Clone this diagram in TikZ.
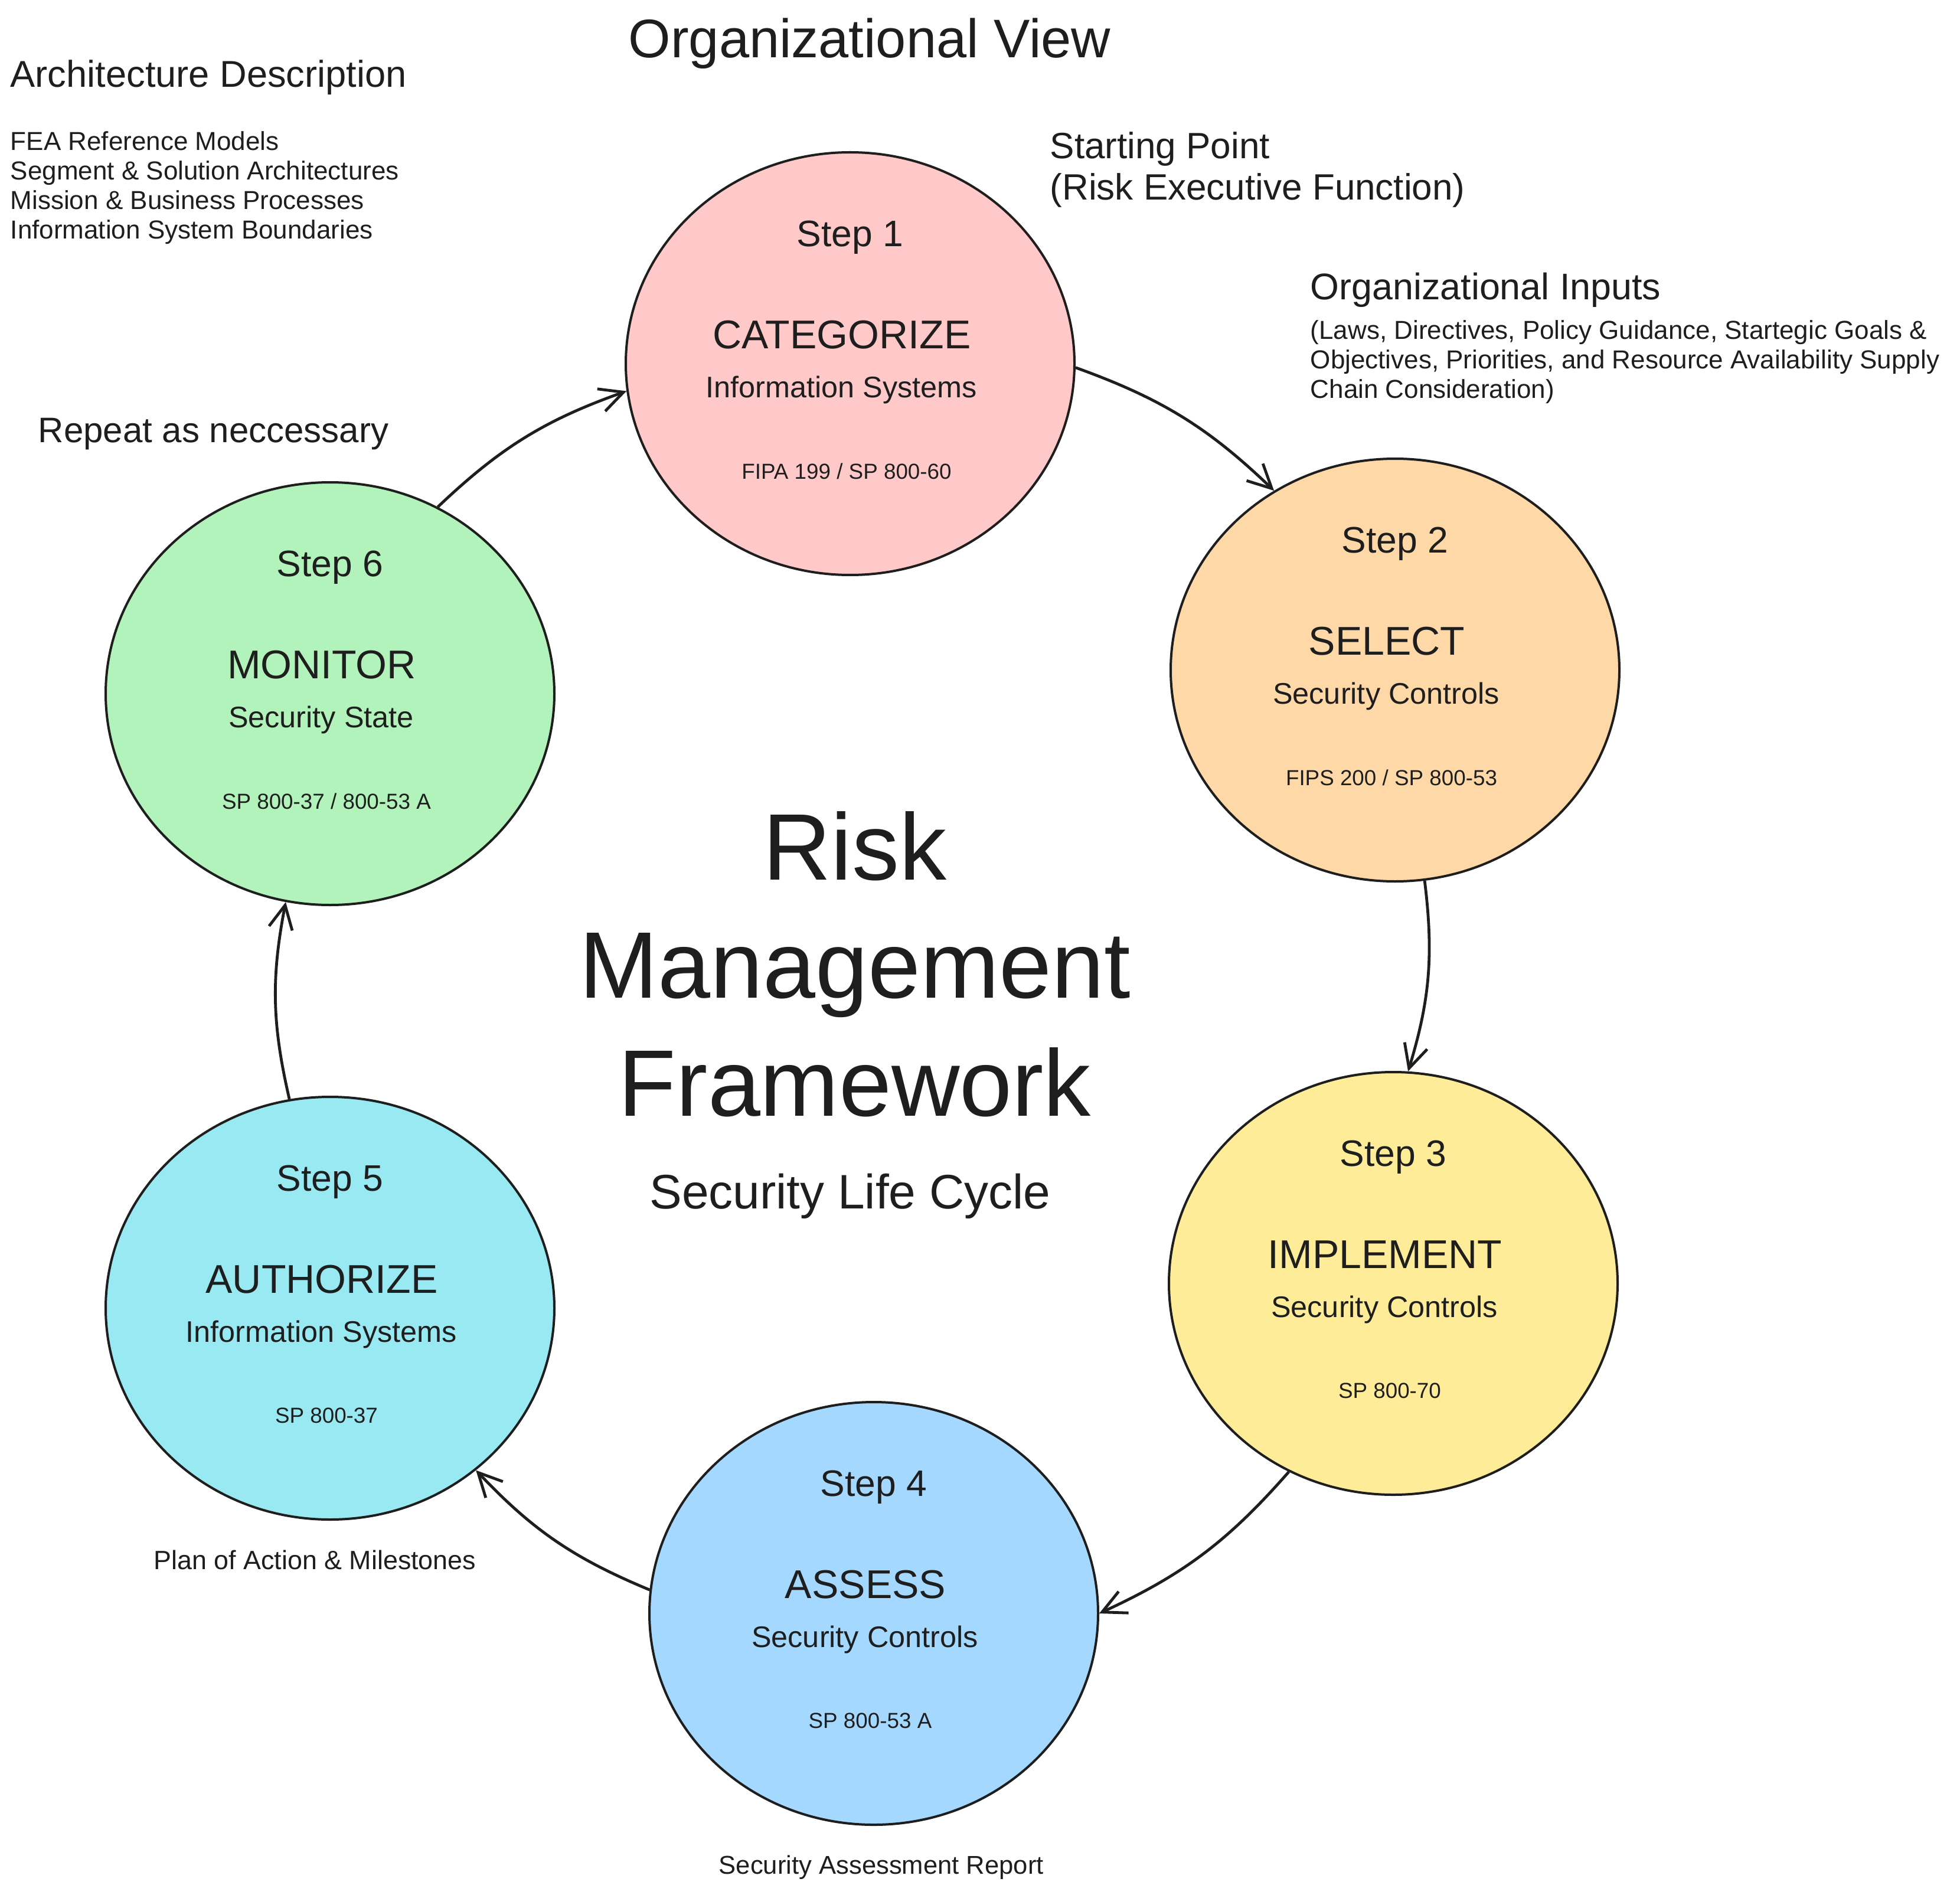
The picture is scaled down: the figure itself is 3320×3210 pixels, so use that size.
\documentclass[tikz,border=0pt]{standalone}
\usepackage{fontspec}
\setmainfont{Liberation Sans}
\usetikzlibrary{shapes.geometric,arrows.meta,calc}
\definecolor{ink}{HTML}{1E1E1E}
\definecolor{stepone}{HTML}{FFC9C9}
\definecolor{steptwo}{HTML}{FFD8A8}
\definecolor{stepthree}{HTML}{FFEC99}
\definecolor{stepfour}{HTML}{A5D8FF}
\definecolor{stepfive}{HTML}{99E9F2}
\definecolor{stepsix}{HTML}{B2F2BB}
\tikzset{
  stepcircle/.style={ellipse, draw=ink, line width=1pt, minimum width=190pt, minimum height=179pt, inner sep=0pt},
  steplabel/.style={font=\fontsize{15.6}{18}\selectfont, text=ink, inner sep=0pt},
  stepname/.style={font=\fontsize{17}{20}\selectfont, text=ink, inner sep=0pt},
  stepsub/.style={font=\fontsize{12.6}{15}\selectfont, text=ink, inner sep=0pt},
  stepref/.style={font=\fontsize{9.2}{11}\selectfont, text=ink, inner sep=0pt},
  flow/.style={-{Straight Barb[length=10pt,width=10pt]}, draw=ink, line width=1.2pt, bend left=12},
  note/.style={anchor=west, align=left, text=ink, inner sep=0pt},
}
\begin{document}
\begin{tikzpicture}[x=0.25pt, y=-0.25pt]
    \useasboundingbox (0,0) rectangle (3320,3210);

    % headings and notes
    \node[text=ink, font=\fontsize{23}{27}\selectfont] at (1473,74) (title) {Organizational View};
    \node[note, font=\fontsize{15.8}{19}\selectfont] at (17,131) (archhead) {Architecture Description};
    \node[note, font=\fontsize{11}{12.5}\selectfont] at (17,318) (archlist) {FEA Reference Models\\Segment \& Solution Architectures\\Mission \& Business Processes\\Information System Boundaries};
    \node[note, font=\fontsize{15.5}{17.5}\selectfont] at (1778,287) (start) {Starting Point\\(Risk Executive Function)};
    \node[note, font=\fontsize{15.7}{19}\selectfont] at (2219,491) (orghead) {Organizational Inputs};
    \node[note, font=\fontsize{11}{12.5}\selectfont] at (2219,613) (orglist) {(Laws, Directives, Policy Guidance, Startegic Goals \&\\Objectives, Priorities, and Resource Availability Supply\\Chain Consideration)};
    \node[note, font=\fontsize{15}{18}\selectfont] at (64,735) (repeat) {Repeat as neccessary};
    \node[note, font=\fontsize{11.2}{13}\selectfont] at (260,2642) (poam) {Plan of Action \& Milestones};
    \node[note, font=\fontsize{10.9}{13}\selectfont] at (1217,3163) (sar) {Security Assessment Report};
    \node[text=ink, align=center, font=\fontsize{40}{50}\selectfont] at (1448,1633) (rmf) {Risk\\Management\\Framework};
    \node[text=ink, font=\fontsize{20.5}{24}\selectfont] at (1440,2026) (cycle) {Security Life Cycle};

    % step 1
    \node[stepcircle, fill=stepone] at (1440,616) (s1) {};
    \node[steplabel] at ($(s1)+(0,-214)$) (s1step) {Step 1};
    \node[stepname] at ($(s1)+(-14,-49)$) (s1name) {CATEGORIZE};
    \node[stepsub] at ($(s1)+(-15,44)$) (s1sub) {Information Systems};
    \node[stepref] at ($(s1)+(-6,182)$) (s1ref) {FIPA 199 / SP 800-60};
    % step 2
    \node[stepcircle, fill=steptwo] at (2363,1135) (s2) {};
    \node[steplabel] at ($(s2)+(0,-214)$) (s2step) {Step 2};
    \node[stepname] at ($(s2)+(-14,-49)$) (s2name) {SELECT};
    \node[stepsub] at ($(s2)+(-15,44)$) (s2sub) {Security Controls};
    \node[stepref] at ($(s2)+(-6,182)$) (s2ref) {FIPS 200 / SP 800-53};
    % step 3
    \node[stepcircle, fill=stepthree] at (2360,2174) (s3) {};
    \node[steplabel] at ($(s3)+(0,-214)$) (s3step) {Step 3};
    \node[stepname] at ($(s3)+(-14,-49)$) (s3name) {IMPLEMENT};
    \node[stepsub] at ($(s3)+(-15,44)$) (s3sub) {Security Controls};
    \node[stepref] at ($(s3)+(-6,182)$) (s3ref) {SP 800-70};
    % step 4
    \node[stepcircle, fill=stepfour] at (1480,2733) (s4) {};
    \node[steplabel] at ($(s4)+(0,-214)$) (s4step) {Step 4};
    \node[stepname] at ($(s4)+(-14,-49)$) (s4name) {ASSESS};
    \node[stepsub] at ($(s4)+(-15,44)$) (s4sub) {Security Controls};
    \node[stepref] at ($(s4)+(-6,182)$) (s4ref) {SP 800-53 A};
    % step 5
    \node[stepcircle, fill=stepfive] at (559,2216) (s5) {};
    \node[steplabel] at ($(s5)+(0,-214)$) (s5step) {Step 5};
    \node[stepname] at ($(s5)+(-14,-49)$) (s5name) {AUTHORIZE};
    \node[stepsub] at ($(s5)+(-15,44)$) (s5sub) {Information Systems};
    \node[stepref] at ($(s5)+(-6,182)$) (s5ref) {SP 800-37};
    % step 6
    \node[stepcircle, fill=stepsix] at (559,1175) (s6) {};
    \node[steplabel] at ($(s6)+(0,-214)$) (s6step) {Step 6};
    \node[stepname] at ($(s6)+(-14,-49)$) (s6name) {MONITOR};
    \node[stepsub] at ($(s6)+(-15,44)$) (s6sub) {Security State};
    \node[stepref] at ($(s6)+(-6,182)$) (s6ref) {SP 800-37 / 800-53 A};

    % the cycle
    \draw[flow] (s1.-1) to (s2.124);
    \draw[flow] (s2.278) to (s3.86);
    \draw[flow] (s3.241) to (s4.0);
    \draw[flow] (s4.174) to (s5.312);
    \draw[flow] (s5.101) to (s6.258);
    \draw[flow] (s6.60) to (s1.187);
\end{tikzpicture}
\end{document}
